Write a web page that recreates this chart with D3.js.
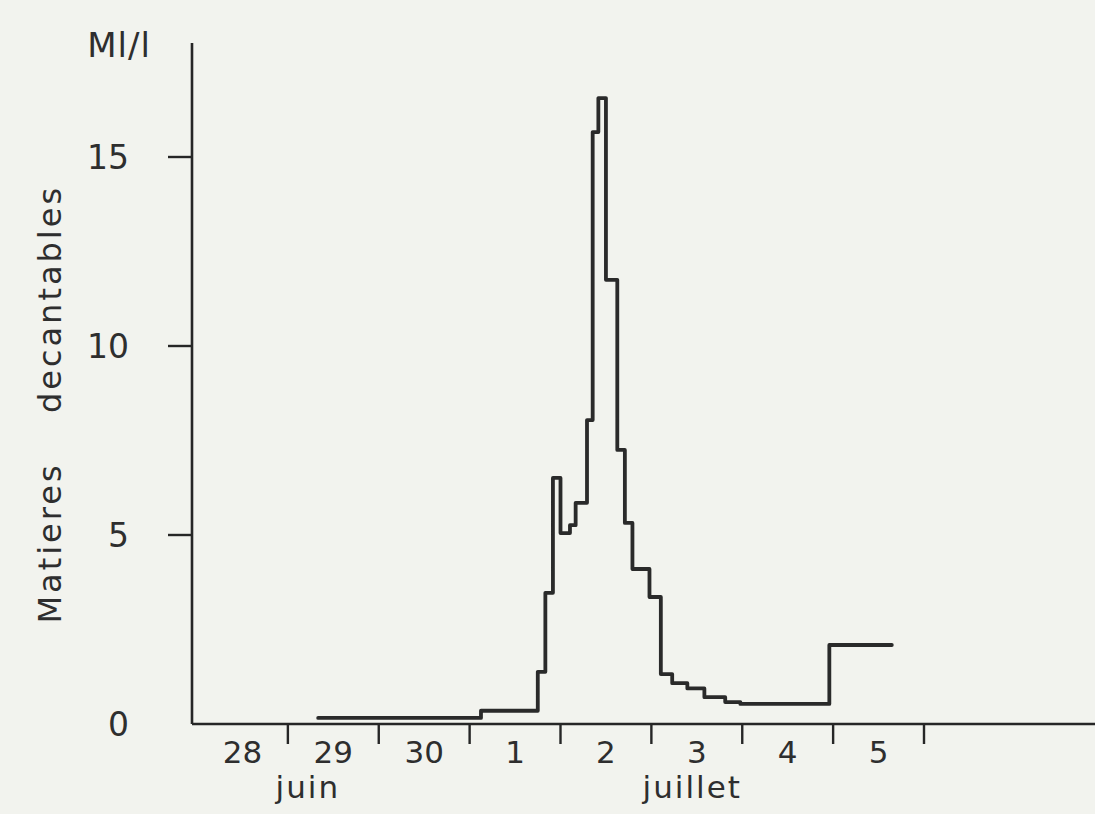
<!DOCTYPE html>
<html>
<head>
<meta charset="utf-8">
<script src="https://cdn.jsdelivr.net/npm/d3@7"></script>
<style>
  html, body { margin: 0; padding: 0; background: #f2f3ee; }
  svg { display: block; }
  text { font-family: "DejaVu Sans", sans-serif; fill: #2e2e2e; }
</style>
</head>
<body>
<svg id="chart" width="1095" height="814"></svg>
<script>
// Settleable solids (ml/l), step record; times in hours from 28 June 00:00
const stepHours = [32, 75, 90, 92, 94, 96, 98.5, 100, 103, 104.5, 106, 108, 111, 113, 115,
                   119.5, 122.5, 125.5, 129.5, 134, 139.5, 143.5, 167, 183.5];
const stepValues = [0.16, 0.35, 1.38, 3.47, 6.51, 5.05, 5.26, 5.85, 8.04, 15.66, 16.56, 11.75,
                    7.25, 5.32, 4.10, 3.36, 1.32, 1.08, 0.94, 0.71, 0.58, 0.53, 2.09];
const dayLabels = ["28", "29", "30", "1", "2", "3", "4", "5"];
const dayBoundaries = [1, 2, 3, 4, 5, 6, 7, 8];
const yTicks = [0, 5, 10, 15];
const monthLabels = [{ text: "juin", day: 1.22 }, { text: "juillet", day: 5.45 }];

const svg = d3.select("#chart");

const x = d3.scaleLinear().domain([0, 192]).range([197, 924]);
const xDay = d3.scaleLinear().domain([0, 8]).range([197, 924]);
const y = d3.scaleLinear().domain([0, 15]).range([724, 157]);

const axisColor = "#262626";
const axisX0 = 192;

// vertical axis
svg.append("line")
  .attr("x1", axisX0).attr("x2", axisX0)
  .attr("y1", 43).attr("y2", y(0))
  .attr("stroke", axisColor).attr("stroke-width", 2.6);

// horizontal axis
svg.append("line")
  .attr("x1", axisX0).attr("x2", 1095)
  .attr("y1", y(0)).attr("y2", y(0))
  .attr("stroke", axisColor).attr("stroke-width", 2.6);

// y ticks (pointing left) and labels
svg.selectAll(".ytick").data(yTicks.filter(d => d > 0)).enter().append("line")
  .attr("x1", axisX0 - 24).attr("x2", axisX0)
  .attr("y1", d => y(d)).attr("y2", d => y(d))
  .attr("stroke", axisColor).attr("stroke-width", 2.4);

svg.selectAll(".ylab").data(yTicks).enter().append("text")
  .attr("x", 129).attr("y", d => y(d) + 12)
  .attr("text-anchor", "end")
  .attr("font-size", 33)
  .text(d => d);

// unit
svg.append("text").attr("x", 119).attr("y", 57)
  .attr("text-anchor", "middle").attr("font-size", 34).attr("letter-spacing", 1)
  .text("Ml/l");

// y title, two words with a wide gap
const yTitle = svg.append("g").attr("transform", "translate(61,0) rotate(-90)");
yTitle.append("text").attr("x", -543).attr("y", 0)
  .attr("text-anchor", "middle").attr("font-size", 32).attr("letter-spacing", 3)
  .text("Matieres");
yTitle.append("text").attr("x", -299).attr("y", 0)
  .attr("text-anchor", "middle").attr("font-size", 32).attr("letter-spacing", 3)
  .text("decantables");

// x ticks (pointing down) at day boundaries
svg.selectAll(".xtick").data(dayBoundaries).enter().append("line")
  .attr("x1", d => xDay(d)).attr("x2", d => xDay(d))
  .attr("y1", y(0)).attr("y2", y(0) + 20)
  .attr("stroke", axisColor).attr("stroke-width", 2.4);

// day labels centred in each day
svg.selectAll(".xlab").data(dayLabels).enter().append("text")
  .attr("x", (d, i) => xDay(i + 0.5)).attr("y", 763)
  .attr("text-anchor", "middle").attr("font-size", 31)
  .text(d => d);

svg.selectAll(".month").data(monthLabels).enter().append("text")
  .attr("x", d => xDay(d.day)).attr("y", 798)
  .attr("text-anchor", "middle").attr("font-size", 31).attr("letter-spacing", 2)
  .text(d => d.text);

// step series
const pts = stepValues.map((v, i) => [stepHours[i], v]);
pts.push([stepHours[stepHours.length - 1], stepValues[stepValues.length - 1]]);

const line = d3.line()
  .x(d => x(d[0])).y(d => y(d[1]))
  .curve(d3.curveStepAfter);

svg.append("path")
  .datum(pts)
  .attr("d", line)
  .attr("fill", "none")
  .attr("stroke", "#2a2a2a")
  .attr("stroke-width", 3.8)
  .attr("stroke-linejoin", "round")
  .attr("stroke-linecap", "round");
</script>
</body>
</html>
